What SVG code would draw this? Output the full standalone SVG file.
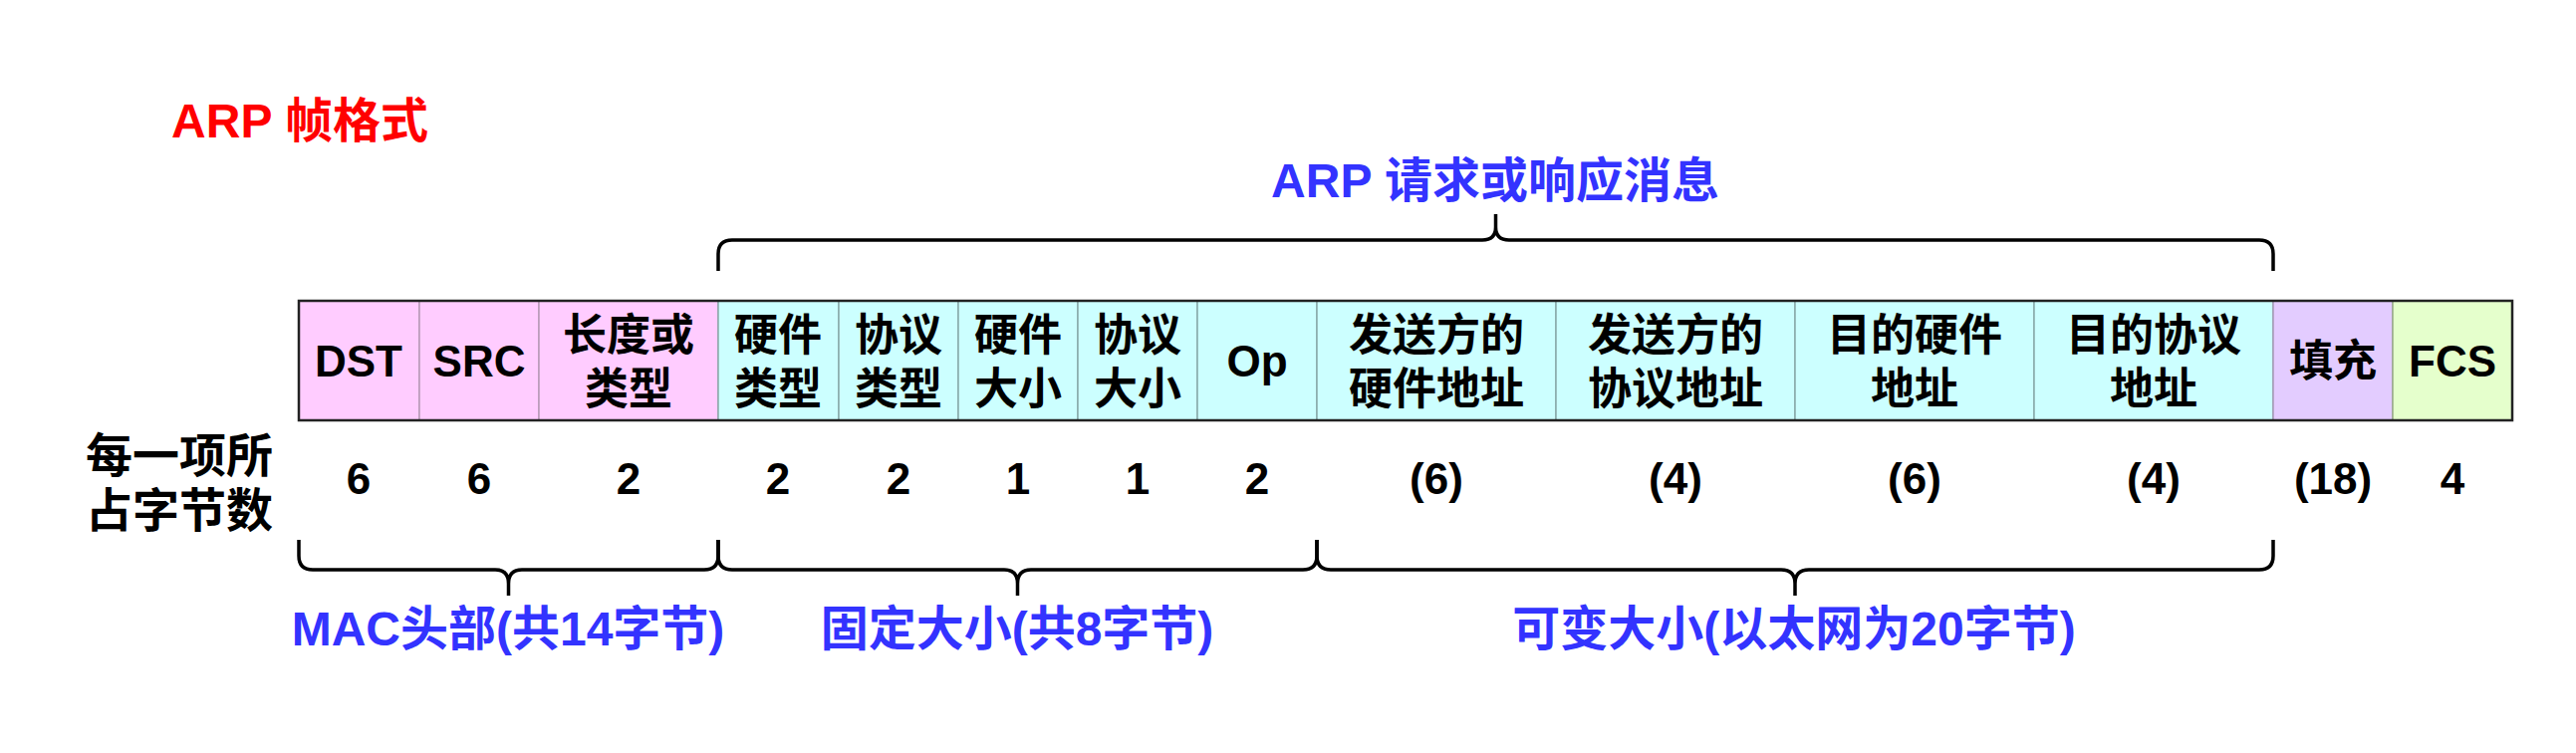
<svg xmlns="http://www.w3.org/2000/svg" width="2586" height="756" viewBox="0 0 2586 756">
<style>
text{font-family:"Liberation Sans","Noto Sans CJK SC",sans-serif;font-weight:bold;text-anchor:middle}
.cell{font-size:44px;fill:#000}
.num{font-size:44px;fill:#000}
.blue{font-size:48px;fill:#3333FF}
.mac{fill:#FFCCFF;stroke:#B899B8;stroke-width:1.5}
.arp{fill:#CCFFFF;stroke:#88AAAA;stroke-width:1.5}
.pad{fill:#E3CCFF;stroke:#A899B8;stroke-width:1.5}
.fcs{fill:#E5FFCC;stroke:#99AA88;stroke-width:1.5}
.brace{fill:none;stroke:#000;stroke-width:3.5;stroke-linecap:butt}
</style>
<rect width="2586" height="756" fill="#fff"/>
<text x="301" y="138" style="font-size:48px;fill:#FF0000">ARP 帧格式</text>
<text x="1501" y="198" class="blue">ARP 请求或响应消息</text>

<g id="frame">
<g id="f-dst"><rect class="mac" x="300" y="302" width="121" height="120"/><text class="cell" x="360" y="378">DST</text></g>
<g id="f-src"><rect class="mac" x="421" y="302" width="120" height="120"/><text class="cell" x="481" y="378">SRC</text></g>
<g id="f-len"><rect class="mac" x="541" y="302" width="180" height="120"/><text class="cell" x="631" y="352">长度或</text><text class="cell" x="631" y="406">类型</text></g>
<g id="f-htype"><rect class="arp" x="721" y="302" width="121" height="120"/><text class="cell" x="781" y="352">硬件</text><text class="cell" x="781" y="406">类型</text></g>
<g id="f-ptype"><rect class="arp" x="842" y="302" width="120" height="120"/><text class="cell" x="902" y="352">协议</text><text class="cell" x="902" y="406">类型</text></g>
<g id="f-hlen"><rect class="arp" x="962" y="302" width="120" height="120"/><text class="cell" x="1022" y="352">硬件</text><text class="cell" x="1022" y="406">大小</text></g>
<g id="f-plen"><rect class="arp" x="1082" y="302" width="120" height="120"/><text class="cell" x="1142" y="352">协议</text><text class="cell" x="1142" y="406">大小</text></g>
<g id="f-op"><rect class="arp" x="1202" y="302" width="120" height="120"/><text class="cell" x="1262" y="378">Op</text></g>
<g id="f-sha"><rect class="arp" x="1322" y="302" width="240" height="120"/><text class="cell" x="1442" y="352">发送方的</text><text class="cell" x="1442" y="406">硬件地址</text></g>
<g id="f-spa"><rect class="arp" x="1562" y="302" width="240" height="120"/><text class="cell" x="1682" y="352">发送方的</text><text class="cell" x="1682" y="406">协议地址</text></g>
<g id="f-tha"><rect class="arp" x="1802" y="302" width="240" height="120"/><text class="cell" x="1922" y="352">目的硬件</text><text class="cell" x="1922" y="406">地址</text></g>
<g id="f-tpa"><rect class="arp" x="2042" y="302" width="240" height="120"/><text class="cell" x="2162" y="352">目的协议</text><text class="cell" x="2162" y="406">地址</text></g>
<g id="f-pad"><rect class="pad" x="2282" y="302" width="120" height="120"/><text class="cell" x="2342" y="378">填充</text></g>
<g id="f-fcs"><rect class="fcs" x="2402" y="302" width="120" height="120"/><text class="cell" x="2462" y="378">FCS</text></g>
<rect x="300" y="302" width="2222" height="120" fill="none" stroke="#222" stroke-width="2.5"/>
</g>

<g id="bytes">
<text x="180" y="474" style="font-size:47px;fill:#000">每一项所</text>
<text x="180" y="529" style="font-size:47px;fill:#000">占字节数</text>
<text class="num" x="360" y="496">6</text>
<text class="num" x="481" y="496">6</text>
<text class="num" x="631" y="496">2</text>
<text class="num" x="781" y="496">2</text>
<text class="num" x="902" y="496">2</text>
<text class="num" x="1022" y="496">1</text>
<text class="num" x="1142" y="496">1</text>
<text class="num" x="1262" y="496">2</text>
<text class="num" x="1442" y="496">(6)</text>
<text class="num" x="1682" y="496">(4)</text>
<text class="num" x="1922" y="496">(6)</text>
<text class="num" x="2162" y="496">(4)</text>
<text class="num" x="2342" y="496">(18)</text>
<text class="num" x="2462" y="496">4</text>
</g>

<g id="connectors">
<path class="brace" d="M721,272 V255 Q721,241 735,241 H1488 Q1501.5,241 1501.5,228 V215 M1501.5,228 Q1501.5,241 1515,241 H2268 Q2282,241 2282,255 V272"/>
<path class="brace" d="M300,542 V558 Q300,572 314,572 H497 Q510.5,572 510.5,586 V598 M510.5,586 Q510.5,572 524,572 H707 Q721,572 721,558 V542"/>
<path class="brace" d="M721,542 V558 Q721,572 735,572 H1008 Q1021.5,572 1021.5,586 V598 M1021.5,586 Q1021.5,572 1035,572 H1308 Q1322,572 1322,558 V542"/>
<path class="brace" d="M1322,542 V558 Q1322,572 1336,572 H1788 Q1802,572 1802,586 V598 M1802,586 Q1802,572 1816,572 H2268 Q2282,572 2282,558 V542"/>
</g>

<g id="labels">
<text x="510" y="648" class="blue">MAC头部(共14字节)</text>
<text x="1021" y="648" class="blue">固定大小(共8字节)</text>
<text x="1801" y="648" class="blue">可变大小(以太网为20字节)</text>
</g>
</svg>
